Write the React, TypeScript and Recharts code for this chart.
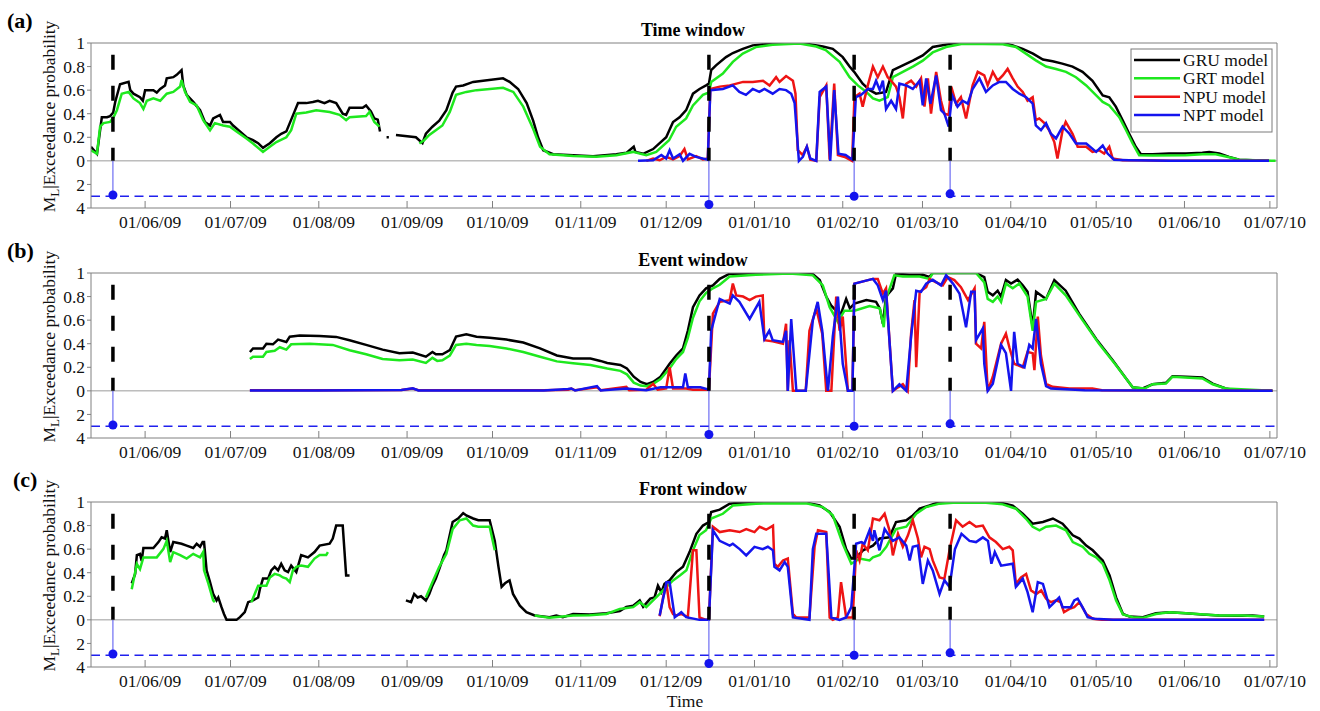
import React from "react";
import { LineChart, Line, XAxis, YAxis, ReferenceLine, ReferenceDot } from "recharts";

// [day, probability]; day 0 = 01/06/2009, null breaks the line
type Pt = [number, number | null];

const monthTicks = [0, 30, 61, 92, 122, 153, 183, 214, 245, 273, 304, 334, 365, 395];
const monthLabels = [
  "01/06/09", "01/07/09", "01/08/09", "01/09/09", "01/10/09", "01/11/09", "01/12/09",
  "01/01/10", "01/02/10", "01/03/10", "01/04/10", "01/05/10", "01/06/10", "01/07/10",
];
// negative side of the axis holds the magnitude stems (M = -y / MAG_SCALE)
const probTicks = [-0.4, -0.2, 0, 0.2, 0.4, 0.6, 0.8, 1];
const MAG_SCALE = 0.1;

const eventDays = [-11.3, 198, 249, 282.7];
const eventMags = [2.9, 3.7, 3.0, 2.8];
const magThreshold = 3;

const seriesNames = ["GRU model", "GRT model", "NPU model", "NPT model"];
const seriesColors = ["#000000", "#1ee81e", "#ee1414", "#1414ee"];

// ---- (a) time window ----
const gruTime: Pt[] = [
  [-19, 0.12], [-16.9, 0.06], [-15.2, 0.37], [-13.4, 0.37], [-12.3, 0.38], [-11.2, 0.41], [-10.5, 0.5],
  [-8.8, 0.65], [-5.8, 0.67], [-5.2, 0.6], [-4.1, 0.57], [-1.8, 0.54], [-0.8, 0.51], [0, 0.6], [2.9, 0.6],
  [4.1, 0.58], [5.3, 0.61], [7, 0.64], [7.6, 0.7], [9.9, 0.71], [11.1, 0.73], [12.8, 0.77], [13.4, 0.64],
  [14.6, 0.56], [16.9, 0.5], [19.3, 0.43], [21, 0.33], [22.8, 0.3], [23.9, 0.36], [26.3, 0.39], [27.4, 0.33],
  [29.8, 0.33], [30.9, 0.3], [33.3, 0.25], [35.6, 0.2], [37.9, 0.175], [39.7, 0.15], [41.4, 0.11], [42.6, 0.13],
  [43.8, 0.15], [46.1, 0.2], [47.8, 0.23], [49.6, 0.25], [50.8, 0.32], [52.5, 0.42], [53.7, 0.49], [56.6, 0.49],
  [58.9, 0.5], [60.7, 0.51], [63, 0.49], [64.8, 0.51], [67.1, 0.49], [69.4, 0.4], [70.6, 0.39], [71.8, 0.45],
  [76.4, 0.45], [77.6, 0.47], [79.3, 0.42], [80.5, 0.36], [81.7, 0.35], [82.5, 0.25], [83.5, null],
  [84.8, 0.2], [85.6, 0.2], [87, null],
  [88.1, 0.22], [95.1, 0.2], [97.4, 0.15], [98.6, 0.23], [100.9, 0.29], [103.3, 0.34], [105.8, 0.43],
  [108, 0.58], [109.2, 0.63], [111.7, 0.64], [114, 0.66], [115.2, 0.67], [118.7, 0.68], [125.7, 0.7],
  [128, 0.67], [131, 0.61], [134, 0.49], [136.3, 0.34], [138, 0.2], [139.8, 0.09], [143.3, 0.056],
  [150.3, 0.048], [157.3, 0.04], [165.5, 0.056], [169, 0.068], [171.6, 0.12], [172.2, 0.076], [174.9, 0.06],
  [178.4, 0.1], [183, 0.2], [185.4, 0.33], [187.7, 0.37], [190, 0.43], [192.4, 0.57], [194.7, 0.61],
  [197, 0.64], [198, 0.655], [198.8, 0.77], [200.5, 0.81], [204, 0.88], [206.4, 0.915], [209.9, 0.95],
  [213.4, 0.98], [220.4, 0.995], [232, 0.995], [238, 0.97], [241.5, 0.95], [245, 0.88], [247.4, 0.8],
  [249, 0.755], [252, 0.655], [254.5, 0.6], [256.7, 0.57], [260.2, 0.585], [262.6, 0.77], [266.1, 0.81],
  [269.6, 0.85], [273.1, 0.895], [276.6, 0.966], [280.1, 0.98], [284.8, 1], [301.2, 1], [304.7, 0.98],
  [308.2, 0.95], [311.8, 0.91], [315.3, 0.86], [318.7, 0.845], [322.1, 0.825], [325.7, 0.8], [329.2, 0.755],
  [332.7, 0.68], [336.3, 0.555], [338.6, 0.54], [340.9, 0.46], [343.3, 0.345], [345.6, 0.23], [347.9, 0.12],
  [349.7, 0.056], [353.8, 0.056], [359.6, 0.062], [365.5, 0.062], [371.3, 0.068], [373.7, 0.076],
  [377.2, 0.062], [380.7, 0.034], [384.2, 0.01], [388.9, 0.006], [394.7, 0],
];
const grtTime: Pt[] = [
  [-19, 0.09], [-16.9, 0.06], [-15.8, 0.29], [-14.6, 0.32], [-12.3, 0.33], [-11.1, 0.37], [-9.9, 0.43],
  [-8.2, 0.57], [-5.8, 0.585], [-4.1, 0.53], [-1.8, 0.49], [-0.6, 0.44], [0.6, 0.51], [2.9, 0.53], [5.3, 0.51],
  [7.6, 0.57], [9.9, 0.585], [12.3, 0.63], [12.8, 0.685], [14, 0.585], [15.8, 0.5], [18.1, 0.47], [20.4, 0.345],
  [22.8, 0.26], [24.5, 0.32], [27.4, 0.3], [29.8, 0.29], [32.1, 0.25], [35.6, 0.19], [37.9, 0.147], [41.4, 0.076],
  [43.8, 0.12], [46.1, 0.16], [49.6, 0.2], [51.3, 0.26], [53.1, 0.4], [56.6, 0.41], [60.1, 0.43], [64.8, 0.415],
  [68.3, 0.39], [70.6, 0.345], [71.8, 0.37], [77.6, 0.38], [78.8, 0.415], [80.5, 0.33], [82.3, 0.29], [90, null],
  [96.3, 0.147], [98, 0.175], [99.8, 0.22], [102.1, 0.26], [104.4, 0.3], [107, 0.415], [109.2, 0.56],
  [112.8, 0.585], [116.4, 0.6], [125.7, 0.62], [129.3, 0.585], [132.8, 0.46], [136.3, 0.27], [138.7, 0.12],
  [142, 0.056], [150.3, 0.042], [158.5, 0.034], [165.5, 0.048], [171.3, 0.076], [176, 0.048], [179.5, 0.076],
  [184, 0.175], [186.5, 0.29], [190, 0.36], [192.4, 0.47], [195.9, 0.56], [198, 0.58], [198.8, 0.67],
  [202.9, 0.74], [206.4, 0.84], [209.9, 0.91], [214.5, 0.965], [220.4, 0.985], [229.8, 0.995], [235.7, 0.97],
  [239, 0.94], [243.9, 0.84], [247.4, 0.71], [250.3, 0.64], [253.3, 0.585], [255.6, 0.53], [257.9, 0.51],
  [260.8, 0.54], [262.6, 0.71], [266.1, 0.755], [269.6, 0.8], [273.1, 0.85], [276.6, 0.92], [281.3, 0.966],
  [287.1, 0.994], [301.2, 0.99], [305.8, 0.966], [309.3, 0.91], [312.8, 0.853], [316.4, 0.8], [319.9, 0.78],
  [323.4, 0.755], [326.9, 0.71], [330.5, 0.64], [334, 0.556], [336.3, 0.5], [338.6, 0.47], [342.1, 0.37],
  [344.5, 0.26], [346.8, 0.147], [349.1, 0.048], [353.8, 0.045], [365.5, 0.048], [371.3, 0.056], [376, 0.056],
  [380.7, 0.03], [384.2, 0.01], [397, 0],
];
const npuTime: Pt[] = [
  [176, 0], [178.4, 0.02], [180.7, 0.005], [183, 0.034], [185.4, 0.012], [187.7, 0.04], [189.4, 0.1],
  [190.6, 0.012], [193.5, 0.04], [195.9, 0.012], [197.6, 0.02], [198.5, 0.61], [201.8, 0.63], [205.3, 0.64],
  [207.7, 0.655], [210, 0.67], [213.4, 0.67], [217, 0.68], [219.3, 0.64], [221.6, 0.71], [222.8, 0.67],
  [225.1, 0.72], [227.5, 0.68], [228.4, 0.57], [229.2, 0.09], [230.9, 0.05], [232.4, 0.12], [233.6, 0.01],
  [235.7, 0], [236.9, 0.54], [239.2, 0.64], [240.4, 0.01], [242, 0.655], [243.3, 0.05], [246, 0.03],
  [248.3, 0], [249.1, 0.54], [250.9, 0.57], [252, 0.46], [253.8, 0.64], [255.6, 0.8], [257.3, 0.71],
  [259.1, 0.8], [260.8, 0.71], [262, 0.68], [263.7, 0.63], [264.9, 0.54], [266.1, 0.36], [267.3, 0.655],
  [269, 0.68], [270.8, 0.63], [272.5, 0.7], [273.7, 0.46], [274.9, 0.7], [276, 0.4], [277.8, 0.755],
  [279.5, 0.51], [280.7, 0.4], [282.2, 0.39], [283.1, 0.63], [284.8, 0.485], [286.5, 0.54], [288.3, 0.36],
  [290.6, 0.64], [292.4, 0.755], [294.7, 0.725], [295.9, 0.64], [297.7, 0.755], [299.4, 0.68], [301.2, 0.725],
  [302.9, 0.78], [304.7, 0.7], [306.4, 0.63], [308.2, 0.585], [309.9, 0.51], [311.7, 0.54], [312.8, 0.345],
  [314, 0.36], [315.8, 0.32], [317.5, 0.26], [319.3, 0.16], [320.4, 0.02], [322.2, 0.26], [323.3, 0.33],
  [325.7, 0.23], [327.5, 0.12], [330.5, 0.12], [332.7, 0.076], [335, 0.09], [336.8, 0.062], [338.6, 0.12],
  [339.8, 0.02], [343.3, 0.006], [350, 0.005], [360, 0], [394.7, 0],
];
const nptTime: Pt[] = [
  [173.1, 0], [178.4, 0.005], [181.3, 0.05], [183, 0.02], [184.2, 0.09], [185.4, 0.02], [187.7, 0.056],
  [188.9, 0], [191.2, 0.06], [193.5, 0.034], [197.6, 0.01], [198.5, 0.6], [202.9, 0.61], [206.4, 0.64],
  [208.7, 0.585], [211, 0.56], [213.4, 0.61], [215.7, 0.585], [217.5, 0.61], [220.4, 0.57], [222.8, 0.61],
  [225.1, 0.6], [226.9, 0.57], [228.1, 0.49], [229.6, 0], [231, 0.034], [232.4, 0.12], [233.6, 0.02],
  [235.7, 0], [236.9, 0.585], [239.2, 0.63], [240.6, 0], [242, 0.6], [243.5, 0.06], [246, 0.05], [248.4, 0.01],
  [249.6, 0.54], [251.4, 0.56], [253.8, 0.61], [255.6, 0.61], [256.7, 0.68], [258, 0.6], [259.1, 0.68],
  [260.2, 0.44], [262, 0.51], [263.7, 0.44], [264.9, 0.655], [267.3, 0.64], [269.6, 0.61], [272, 0.68],
  [273.1, 0.47], [274.3, 0.7], [275.8, 0.485], [277.8, 0.725], [279.5, 0.43], [280.7, 0.4], [282.2, 0.29],
  [283.4, 0.556], [285.3, 0.46], [287.1, 0.51], [288.9, 0.485], [290.6, 0.61], [293, 0.7], [295.3, 0.585],
  [297.7, 0.64], [300, 0.67], [302.3, 0.67], [304.7, 0.61], [307, 0.57], [309.4, 0.54], [311.7, 0.485],
  [312.8, 0.3], [314.6, 0.26], [316.4, 0.32], [318.1, 0.23], [319.9, 0.19], [322.2, 0.29], [324.6, 0.23],
  [326.9, 0.147], [330.5, 0.147], [334, 0.076], [336.3, 0.13], [338, 0.062], [340.3, 0.01], [345.6, 0.006],
  [360, 0], [394.7, 0],
];

// ---- (b) event window ----
const gruEvent: Pt[] = [
  [36.8, 0.33], [37.9, 0.36], [41.4, 0.36], [42.6, 0.4], [44.9, 0.395], [46.7, 0.435], [49.6, 0.415],
  [50.8, 0.46], [54.3, 0.47], [61.3, 0.466], [67.1, 0.458], [71.8, 0.43], [77.6, 0.39], [83.4, 0.35],
  [89.3, 0.32], [94, 0.325], [98.6, 0.29], [100.9, 0.33], [102.1, 0.31], [104.4, 0.31], [107, 0.345],
  [109.2, 0.46], [112.8, 0.48], [116.4, 0.46], [121, 0.45], [126.9, 0.435], [132.8, 0.41], [138.7, 0.36],
  [144.6, 0.3], [150.3, 0.275], [156.4, 0.275], [159.9, 0.254], [162.3, 0.237], [166.9, 0.22], [169.2, 0.19],
  [171.6, 0.12], [174, 0.076], [176.2, 0.056], [178.4, 0.076], [181, 0.12], [184.2, 0.23], [186.5, 0.3],
  [188.9, 0.36], [190.6, 0.51], [192.4, 0.71], [194.7, 0.81], [197, 0.87], [199.4, 0.895], [201.8, 0.95],
  [205.3, 0.994], [214.5, 0.994], [226.3, 1], [234.5, 0.99], [236.9, 0.94], [239.2, 0.8], [240.9, 0.725],
  [242.7, 0.68], [244.4, 0.655], [246.2, 0.78], [247.5, 0.7], [249.1, 0.74], [253.3, 0.77], [256.7, 0.755],
  [258, 0.7], [259.1, 0.57], [260.2, 0.8], [262.6, 0.87], [263.7, 0.994], [268.4, 0.985], [273.1, 0.985],
  [275.4, 0.966], [276.6, 1], [291.8, 1], [294.7, 0.966], [295.9, 0.84], [297.7, 0.81], [299.4, 0.85],
  [300.6, 0.8], [302.3, 0.94], [304.1, 0.91], [306.4, 0.943], [308.2, 0.895], [309.9, 0.84], [311.7, 0.54],
  [312.9, 0.84], [316.4, 0.78], [319.3, 0.94], [323.3, 0.85], [328, 0.655], [334, 0.44], [339.8, 0.26],
  [344.5, 0.105], [346.8, 0.03], [350.3, 0.02], [353.8, 0.056], [358.5, 0.068], [360.8, 0.124], [365.5, 0.12],
  [371.3, 0.113], [374.9, 0.062], [379.5, 0.02], [383, 0.006], [395.9, 0],
];
const grtEvent: Pt[] = [
  [36.8, 0.27], [37.9, 0.29], [41.4, 0.29], [42.6, 0.33], [45.5, 0.34], [47.3, 0.37], [49.6, 0.35],
  [51.3, 0.395], [57.8, 0.4], [65.9, 0.39], [71.8, 0.345], [77.6, 0.31], [83.4, 0.27], [89.3, 0.26],
  [94, 0.265], [98.6, 0.237], [100.9, 0.28], [102.6, 0.254], [104.4, 0.26], [107, 0.3], [109.2, 0.39],
  [112.8, 0.4], [116.4, 0.39], [121, 0.38], [126.9, 0.36], [132.8, 0.33], [138.7, 0.29], [144.6, 0.25],
  [150.3, 0.235], [156.4, 0.22], [162.3, 0.19], [166.9, 0.17], [169.2, 0.14], [171.6, 0.07], [174, 0.045],
  [176.2, 0.04], [178.4, 0.06], [181, 0.1], [184.2, 0.19], [186.5, 0.27], [188.9, 0.33], [190.6, 0.45],
  [192.4, 0.62], [194.7, 0.76], [197, 0.83], [199.4, 0.87], [201.8, 0.9], [205.3, 0.97], [214.5, 0.985],
  [226.3, 0.995], [234.5, 0.98], [238, 0.895], [240.4, 0.71], [243.3, 0.585], [245.6, 0.68], [249.1, 0.68],
  [254.4, 0.72], [258, 0.7], [259.4, 0.54], [260.2, 0.78], [263.1, 0.98], [266.1, 0.97], [272, 0.97],
  [275.4, 0.95], [276.6, 1], [291.8, 1], [294.7, 0.92], [295.9, 0.78], [297.7, 0.755], [299.4, 0.8],
  [300.6, 0.755], [302.3, 0.91], [304.7, 0.87], [307, 0.91], [309.9, 0.8], [311.7, 0.51], [312.9, 0.755],
  [316.4, 0.78], [319.3, 0.91], [323.3, 0.81], [329.2, 0.6], [335, 0.4], [340.9, 0.22], [346.8, 0.03],
  [351, 0.02], [353.8, 0.056], [358.5, 0.062], [360.8, 0.12], [371.3, 0.105], [374.9, 0.056], [379.5, 0.02],
  [395.9, 0],
];
const npuEvent: Pt[] = [
  [36.8, 0.005], [60, 0.005], [90, 0.008], [94, 0.02], [96, 0.005], [140, 0.005], [148.5, 0.01], [149.7, 0.02],
  [151, 0.005], [158.7, 0.03], [160, 0.005], [169, 0.034], [170, 0.005], [176, 0.01], [178.4, 0.06], [180, 0.01],
  [183, 0.02], [184.2, 0.2], [185.4, 0.02], [190, 0.02], [192.4, 0.01], [198, 0.01], [199.4, 0.655],
  [201.8, 0.755], [205.3, 0.77], [206.4, 0.91], [207.6, 0.81], [210, 0.8], [212.3, 0.77], [214.5, 0.8],
  [216.9, 0.81], [217.5, 0.43], [220.4, 0.42], [224, 0.4], [225.1, 0.57], [225.7, 0], [226.3, 0.43],
  [227.5, 0], [232, 0], [233.3, 0.51], [235.7, 0.7], [237.8, 0.485], [239.2, 0], [241, 0], [242.7, 0.8],
  [243.9, 0.51], [245, 0.63], [246.8, 0], [248.4, 0], [249.1, 0.91], [255.6, 0.95], [257.3, 0.95],
  [259.1, 0.825], [260.2, 0.87], [262.6, 0], [264.4, 0.03], [266.1, 0.056], [267.8, 0], [269, 0.485],
  [270.2, 0.77], [270.8, 0.2], [272, 0.84], [274.3, 0.88], [275.5, 0.95], [277.8, 0.92], [280.1, 0.895],
  [281.9, 0.966], [284.2, 0.94], [286.5, 0.88], [289, 0.77], [291.3, 0.87], [291.8, 0.4], [293.6, 0.36],
  [294.7, 0.585], [295.9, 0], [297.7, 0.12], [300.6, 0.4], [302.3, 0.485], [303.5, 0.37], [305.2, 0.23],
  [308.2, 0.2], [309.9, 0.33], [311.7, 0.32], [312.3, 0.175], [313.5, 0.63], [314.6, 0.3], [316.4, 0.06],
  [318.7, 0.034], [324.6, 0.02], [332.7, 0.02], [336, 0.006], [395.9, 0],
];
const nptEvent: Pt[] = [
  [36.8, 0.003], [60, 0.003], [90, 0.008], [94, 0.022], [96, 0.003], [140, 0.003], [148.5, 0.015],
  [149.7, 0.02], [151, 0.003], [158.7, 0.04], [160, 0.003], [169, 0.02], [176, 0.005], [181, 0.03],
  [183, 0.03], [188.9, 0.03], [189.7, 0.147], [190.6, 0.03], [195, 0.03], [198, 0.01], [198.8, 0.51],
  [201.8, 0.78], [205.3, 0.74], [206.4, 0.81], [208.7, 0.755], [212.3, 0.61], [215.7, 0.755], [217.5, 0.44],
  [219.2, 0.51], [220.4, 0.43], [224, 0.415], [225.1, 0.51], [225.7, 0], [226.9, 0.61], [228.7, 0], [232, 0],
  [234.5, 0.6], [236.2, 0.755], [237.8, 0.51], [239.8, 0], [241.5, 0.46], [243.3, 0.8], [245, 0.23],
  [246.8, 0], [248.4, 0], [249.1, 0.91], [255.6, 0.95], [257.3, 0.895], [259.1, 0.77], [260.2, 0.85],
  [262.6, 0], [264.9, 0.056], [267.3, 0], [269, 0.46], [270.8, 0.85], [272.5, 0.84], [274.3, 0.91],
  [276.6, 0.943], [279.5, 0.895], [281.3, 0.98], [283.7, 0.91], [286, 0.825], [288.3, 0.54], [290.1, 0.84],
  [291.3, 0.84], [291.8, 0.43], [294.2, 0.53], [294.7, 0.23], [295.9, 0], [297.7, 0.06], [300.6, 0.39],
  [302.3, 0.32], [304.1, 0], [305.2, 0.5], [306.4, 0.23], [308.8, 0.2], [310.5, 0.39], [311.7, 0.36],
  [312.9, 0.61], [314.6, 0.23], [316.4, 0.04], [318.1, 0.02], [330, 0.006], [395.9, 0],
];

// ---- (c) front window ----
const gruFront: Pt[] = [
  [-4.7, 0.31], [-3.5, 0.39], [-2.9, 0.55], [-1.8, 0.56], [-1.2, 0.5], [-0.6, 0.61], [2.9, 0.61], [4.7, 0.66],
  [5.8, 0.7], [7, 0.69], [7.6, 0.76], [8.8, 0.575], [9.9, 0.66], [12.8, 0.646], [14.6, 0.63], [16.9, 0.61],
  [18.1, 0.646], [19.3, 0.62], [20.2, 0.66], [20.7, 0.66], [21.6, 0.42], [22.8, 0.32], [23.9, 0.22],
  [25.1, 0.165], [25.7, 0.19], [26.8, 0.11], [27.7, 0.05], [28.6, 0], [32.1, 0], [33.3, 0.023], [35, 0.065],
  [36.2, 0.15], [37.9, 0.165], [39.7, 0.19], [40.3, 0.26], [41.4, 0.35], [43.2, 0.35], [44.3, 0.42],
  [45.5, 0.45], [46.7, 0.42], [47.8, 0.475], [49, 0.42], [50.2, 0.405], [51.3, 0.46], [53.1, 0.405],
  [54.8, 0.55], [57.2, 0.53], [59.5, 0.575], [61.3, 0.63], [64.8, 0.646], [65.9, 0.69], [67.1, 0.8],
  [69.4, 0.8], [70, 0.59], [70.6, 0.377], [71.8, 0.377], [80, null],
  [91.6, 0.165], [93.4, 0.15], [94.5, 0.22], [95.7, 0.19], [96.9, 0.2], [98.6, 0.165], [99.8, 0.22],
  [100.9, 0.29], [102.1, 0.35], [103.3, 0.43], [105, 0.55], [105.8, 0.59], [108, 0.83], [109.9, 0.86],
  [111.7, 0.906], [112.8, 0.886], [115.2, 0.86], [117, 0.845], [121, 0.845], [122.8, 0.67], [124.1, 0.45],
  [125.2, 0.28], [126.4, 0.31], [128, 0.335], [129.2, 0.22], [131.6, 0.12], [133.9, 0.065], [136.8, 0.037],
  [142, 0.023], [144.4, 0.037], [146.7, 0.023], [150.3, 0.05], [156.1, 0.045], [162, 0.057], [166.7, 0.074],
  [169, 0.11], [171.4, 0.12], [173.7, 0.165], [174.9, 0.11], [177.4, 0.18], [178.9, 0.19], [180.1, 0.29],
  [181.3, 0.235], [182.4, 0.305], [184.2, 0.335], [186.5, 0.405], [188.9, 0.45], [191.2, 0.575],
  [193.6, 0.73], [195.9, 0.8], [198, 0.83], [198.8, 0.915], [201.8, 0.935], [205.3, 0.986], [208.8, 0.994],
  [220.4, 1], [232.2, 0.994], [236.9, 0.97], [240.4, 0.915], [243.9, 0.79], [246.2, 0.6], [248, 0.52],
  [249.8, 0.53], [252.1, 0.59], [255.6, 0.63], [258, 0.69], [261.4, 0.7], [263.7, 0.83], [267.3, 0.845],
  [269.6, 0.886], [272, 0.943], [275.5, 0.97], [277.8, 0.99], [283.7, 1], [295.3, 1], [301.2, 0.99],
  [304.7, 0.97], [308.2, 0.9], [311.7, 0.816], [315.3, 0.83], [318.8, 0.86], [322.2, 0.816], [325.8, 0.717],
  [328.1, 0.69], [330.5, 0.63], [332.8, 0.59], [335.2, 0.53], [336.3, 0.504], [338.7, 0.377], [341, 0.19],
  [343.4, 0.05], [345.7, 0.028], [350.4, 0.023], [355, 0.057], [359.7, 0.065], [365.5, 0.057], [371.3, 0.045],
  [377.2, 0.037], [383, 0.034], [388.9, 0.037], [393, 0.028],
];
const grtFront: Pt[] = [
  [-4.7, 0.26], [-2.9, 0.475], [-1.8, 0.43], [-0.6, 0.53], [4.1, 0.53], [6.4, 0.6], [7.6, 0.67], [8.8, 0.49],
  [9.9, 0.575], [12.3, 0.55], [14.6, 0.52], [16.9, 0.56], [19.3, 0.53], [20.4, 0.575], [20.7, 0.42],
  [22.2, 0.31], [23.9, 0.165], [24.5, 0.15], [30, null],
  [37.3, 0.15], [39.7, 0.29], [42.6, 0.29], [43.8, 0.36], [45.5, 0.39], [47.3, 0.377], [48.4, 0.36],
  [49.6, 0.35], [50.8, 0.32], [51.9, 0.42], [53.1, 0.45], [54.8, 0.46], [57.2, 0.45], [59.5, 0.52],
  [61.3, 0.55], [63.6, 0.55], [64.2, 0.575], [80, null],
  [98.6, 0.19], [100.9, 0.32], [103.3, 0.45], [105.8, 0.56], [108, 0.77], [110.5, 0.845], [112.8, 0.86],
  [115.2, 0.8], [117, 0.79], [121, 0.79], [122.8, 0.59], [130, null],
  [136.8, 0.037], [142, 0.017], [150.3, 0.037], [156.1, 0.04], [162, 0.05], [166.7, 0.093], [171.4, 0.108],
  [173.7, 0.15], [176, 0.108], [178.4, 0.165], [180.7, 0.22], [183.1, 0.28], [185.4, 0.335], [187.8, 0.377],
  [190.1, 0.42], [192.4, 0.59], [194.7, 0.72], [197, 0.76], [198.8, 0.86], [202.9, 0.9], [206.4, 0.97],
  [214.5, 0.986], [232.2, 0.99], [238, 0.957], [241.5, 0.887], [245, 0.646], [248, 0.476], [250.9, 0.52],
  [254.4, 0.504], [255.6, 0.53], [258, 0.55], [260.3, 0.62], [261.4, 0.67], [263.7, 0.77], [267.3, 0.79],
  [270.8, 0.9], [274.3, 0.957], [279, 0.986], [283.7, 0.994], [295.3, 0.994], [301.2, 0.98], [305.8, 0.943],
  [309.3, 0.86], [311.7, 0.79], [314.1, 0.76], [316.4, 0.79], [319.9, 0.8], [323.4, 0.76], [325.8, 0.66],
  [329.3, 0.62], [331.6, 0.56], [334, 0.53], [336.3, 0.476], [338.7, 0.335], [341, 0.165], [343.4, 0.045],
  [346.9, 0.023], [350.4, 0.017], [355, 0.05], [359.7, 0.065], [365.5, 0.057], [377.2, 0.037], [385.3, 0.037],
  [393, 0.028],
];
const npuFront: Pt[] = [
  [180.7, 0.03], [181.9, 0.19], [183.1, 0.305], [184.2, 0.108], [185.4, 0.05], [186.5, 0.037], [188.3, 0.05],
  [190.6, 0.023], [192.4, 0.59], [193.6, 0.59], [194.7, 0.02], [197, 0], [198, 0], [199.4, 0.79],
  [201.8, 0.745], [205.3, 0.76], [208.8, 0.745], [211.1, 0.77], [214, 0.745], [215.8, 0.79], [218.1, 0.765],
  [220.5, 0.8], [221, 0.476], [222.2, 0.45], [224, 0.504], [225.7, 0.52], [227.5, 0.05], [228.7, 0.02],
  [233.3, 0.02], [235.1, 0.62], [236.3, 0.76], [239.2, 0.745], [240.4, 0.02], [241.5, 0], [243.3, 0.02],
  [244.4, 0.32], [246.2, 0.02], [248.5, 0.02], [249.7, 0.59], [250.9, 0.504], [252, 0.646], [253.8, 0.59],
  [255.6, 0.86], [257.9, 0.845], [259.7, 0.9], [261.4, 0.76], [262.6, 0.547], [264.4, 0.73], [266.1, 0.62],
  [267.9, 0.717], [269.6, 0.845], [271.4, 0.69], [272.5, 0.53], [273.7, 0.62], [275.5, 0.6], [276.6, 0.504],
  [279, 0.36], [280.7, 0.35], [282.5, 0.59], [284.8, 0.845], [287.1, 0.79], [289.5, 0.83], [291.8, 0.79],
  [294.2, 0.8], [296.5, 0.7], [298.8, 0.66], [301.2, 0.6], [303.5, 0.62], [304.7, 0.59], [305.8, 0.305],
  [307.6, 0.36], [309.4, 0.39], [311.1, 0.25], [313, 0.22], [314.7, 0.25], [316.4, 0.18], [318.1, 0.15],
  [319.9, 0.165], [321.5, 0.15], [322.7, 0.065], [324.6, 0.093], [326.3, 0.108], [328.1, 0.15], [330.5, 0.05],
  [332.8, 0.01], [336, 0], [393, 0],
];
const nptFront: Pt[] = [
  [180.7, 0.037], [183.1, 0.32], [184.2, 0.32], [186, 0.023], [188.3, 0.065], [190, 0.023], [194.7, 0],
  [198, 0], [199.4, 0.76], [201.8, 0.67], [205.3, 0.63], [206.4, 0.646], [208.8, 0.6], [211.1, 0.547],
  [214, 0.62], [216.9, 0.6], [218.7, 0.62], [220.5, 0.59], [221, 0.45], [222.8, 0.42], [224.6, 0.49],
  [225.7, 0.45], [227.5, 0.02], [233.3, 0], [234.5, 0.6], [235.7, 0.73], [239.2, 0.73], [241, 0.02],
  [243.9, 0], [246.2, 0.02], [248, 0.108], [249.7, 0.646], [251.5, 0.66], [252.6, 0.646], [254.4, 0.76],
  [255.6, 0.67], [256.1, 0.76], [257.9, 0.59], [259.7, 0.77], [262.6, 0.67], [264.9, 0.7], [267.3, 0.63],
  [268.5, 0.504], [269.6, 0.62], [271.4, 0.63], [273.1, 0.305], [274.9, 0.504], [276.6, 0.42], [279, 0.22],
  [280.7, 0.335], [282.5, 0.28], [284.4, 0.6], [286.7, 0.73], [289.5, 0.67], [291.8, 0.66], [294.2, 0.7],
  [296, 0.67], [297.2, 0.476], [298.4, 0.575], [300.6, 0.46], [304.7, 0.476], [305.8, 0.28], [308.2, 0.35],
  [309.9, 0.235], [311.7, 0.065], [313.5, 0.32], [315.3, 0.305], [317.6, 0.108], [319.4, 0.15], [321, 0.19],
  [322.2, 0.108], [325.1, 0.108], [326.3, 0.165], [327.5, 0.18], [329.2, 0.108], [331, 0.023], [333.4, 0.01],
  [340, 0], [393, 0],
];

const panels = [
  { tag: "(a)", title: "Time window", top: 42.5, tagX: 7, series: [gruTime, grtTime, npuTime, nptTime] },
  { tag: "(b)", title: "Event window", top: 272.7, tagX: 7, series: [gruEvent, grtEvent, npuEvent, nptEvent] },
  { tag: "(c)", title: "Front window", top: 501.7, tagX: 13, series: [gruFront, grtFront, npuFront, nptFront] },
];

const X_DOMAIN: [number, number] = [-19, 397.5];
const PLOT_H = 165;
const FONT = "Liberation Serif";
const AXIS = { stroke: "#808080", strokeWidth: 1 };
const TICK_TEXT = { fontSize: 17.5, fill: "#111", fontFamily: FONT, style: { fontFamily: FONT } };

const toRows = (pts: Pt[]) => pts.map(([d, v]) => ({ d, v }));
const fmtMonth = (v: number) => monthLabels[monthTicks.indexOf(v)] ?? "";
const fmtProb = (v: number) => (v < 0 ? String(Math.round(-v / MAG_SCALE)) : String(Math.round(v * 10) / 10));

function Panel({ top, series }: { top: number; series: Pt[][] }) {
  return (
    <div style={{ position: "absolute", left: 0, top: top - 10 }}>
      <LineChart width={1320} height={10 + PLOT_H + 29} margin={{ top: 9, right: 42, bottom: 0, left: 0 }}>
        <XAxis
          xAxisId="top" orientation="top" type="number" dataKey="d" domain={X_DOMAIN} allowDataOverflow
          ticks={monthTicks} height={1} tick={false} tickSize={-7} axisLine={AXIS} tickLine={AXIS}
        />
        <XAxis
          type="number" dataKey="d" domain={X_DOMAIN} allowDataOverflow ticks={monthTicks} interval={0}
          height={29} tickSize={-7} tickMargin={15} tickFormatter={fmtMonth}
          tick={{ ...TICK_TEXT, dx: 5 }} axisLine={AXIS} tickLine={AXIS}
        />
        <YAxis
          type="number" domain={[-0.4, 1]} allowDataOverflow ticks={probTicks} interval={0}
          width={91} tickSize={4} tickMargin={2} tickFormatter={fmtProb} tick={TICK_TEXT}
          axisLine={AXIS} tickLine={AXIS}
        />
        <YAxis
          yAxisId="r" orientation="right" type="number" domain={[-0.4, 1]} allowDataOverflow
          ticks={probTicks} width={1} tick={false} tickSize={-7} axisLine={AXIS} tickLine={AXIS}
        />
        <ReferenceLine y={0} stroke="#9a9a9a" strokeWidth={1} />
        <ReferenceLine y={-magThreshold * MAG_SCALE} stroke="#2020ee" strokeWidth={1.5} strokeDasharray="9 5.5" />
        {series.map((pts, i) => (
          <Line
            key={seriesNames[i]} data={toRows(pts)} dataKey="v" name={seriesNames[i]} type="linear"
            stroke={seriesColors[i]} strokeWidth={2.5} dot={false} activeDot={false}
            connectNulls={false} isAnimationActive={false}
          />
        ))}
        {eventDays.map((d) => (
          <ReferenceLine
            key={`ev${d}`} segment={[{ x: d, y: 0.9 }, { x: d, y: 0 }]}
            stroke="#000" strokeWidth={3.5} strokeDasharray="15 16"
          />
        ))}
        {eventDays.map((d, i) => (
          <ReferenceLine
            key={`st${d}`} segment={[{ x: d, y: 0 }, { x: d, y: -eventMags[i] * MAG_SCALE }]}
            stroke="#5050f0" strokeWidth={1}
          />
        ))}
        {eventDays.map((d, i) => (
          <ReferenceDot key={`dot${d}`} x={d} y={-eventMags[i] * MAG_SCALE} r={4.5} fill="#1414ee" stroke="none" />
        ))}
      </LineChart>
    </div>
  );
}

export default function App() {
  const legendRows = [60, 78.3, 96.7, 115];
  const txt = { fontFamily: FONT };
  return (
    <div style={{ position: "absolute", left: 0, top: 0, width: 1320, height: 711, background: "#fff", fontFamily: FONT }}>
      {panels.map((p) => (
        <Panel key={p.tag} top={p.top} series={p.series} />
      ))}
      <svg width={1320} height={711} style={{ position: "absolute", left: 0, top: 0, pointerEvents: "none", fontFamily: FONT }}>
        {panels.map((p) => {
          const mid = p.top + 74;
          return (
            <g key={p.tag}>
              <text x={p.tagX} y={p.top - 15} fontSize={22} fontWeight="bold" style={txt}>{p.tag}</text>
              <text x={693} y={p.top - 7} fontSize={18} fontWeight="bold" textAnchor="middle" style={txt}>{p.title}</text>
              <text transform={`translate(55,${mid}) rotate(-90)`} fontSize={17.5} textAnchor="middle" fill="#111" style={txt}>
                <tspan>M</tspan>
                <tspan dy={4} fontSize={13}>L</tspan>
                <tspan dy={-4}>|Exceedance probability</tspan>
              </text>
            </g>
          );
        })}
        <text x={685} y={707} fontSize={17.5} textAnchor="middle" fill="#111" style={txt}>Time</text>
        <g>
          <rect x={1131} y={49} width={141} height={83} fill="#fff" stroke="#7a7a7a" strokeWidth={1} />
          {seriesNames.map((name, i) => (
            <g key={name}>
              <line x1={1134} x2={1180} y1={legendRows[i]} y2={legendRows[i]} stroke={seriesColors[i]} strokeWidth={2.5} />
              <text x={1183} y={legendRows[i] + 6} fontSize={17.5} fill="#111" style={txt}>{name}</text>
            </g>
          ))}
        </g>
      </svg>
    </div>
  );
}
